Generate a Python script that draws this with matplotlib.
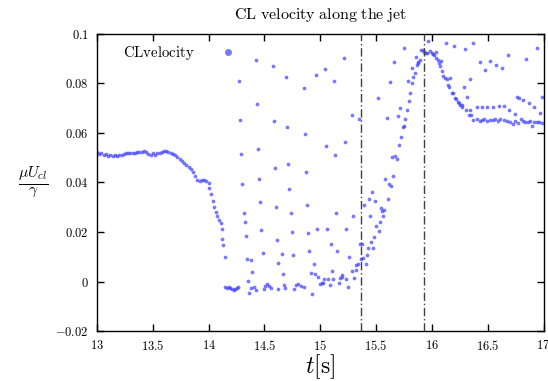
import matplotlib
matplotlib.use("Agg")
import matplotlib.pyplot as plt
from matplotlib.lines import Line2D

plt.rcParams['mathtext.fontset'] = 'cm'

# smooth part before the jet breaks up
t_early = [13.00, 13.02, 13.04, 13.06, 13.08, 13.10, 13.12, 13.14, 13.16, 13.18,
           13.20, 13.22, 13.24, 13.26, 13.28, 13.30, 13.32, 13.34, 13.36, 13.38,
           13.40, 13.42, 13.44, 13.46, 13.48, 13.50, 13.52, 13.54, 13.56, 13.58,
           13.60, 13.62, 13.64, 13.66, 13.68, 13.70, 13.72, 13.74, 13.76, 13.78,
           13.80, 13.82, 13.84, 13.86, 13.88, 13.90, 13.92, 13.94, 13.96, 13.98,
           14.00, 14.004, 14.019, 14.037, 14.049, 14.066, 14.078, 14.096, 14.108,
           14.117, 14.123, 14.132, 14.146,
           14.150, 14.165, 14.180, 14.195, 14.210, 14.225, 14.240, 14.255, 14.265]
v_early = [0.0522, 0.0515, 0.0518, 0.0510, 0.0514, 0.0508, 0.0512, 0.0505, 0.0510, 0.0508,
           0.0511, 0.0513, 0.0515, 0.0518, 0.0520, 0.0521, 0.0518, 0.0520, 0.0523, 0.0522,
           0.0525, 0.0527, 0.0522, 0.0514, 0.0510, 0.0519, 0.0512, 0.0518, 0.0520, 0.0524,
           0.0527, 0.0528, 0.0524, 0.0520, 0.0515, 0.0510, 0.0503, 0.0496, 0.0488, 0.0479,
           0.0470, 0.0462, 0.0453, 0.0444, 0.0428, 0.0412, 0.0408, 0.0410, 0.0411, 0.0406,
           0.0396, 0.0377, 0.0354, 0.0327, 0.0302, 0.0282, 0.0265, 0.0248, 0.0238,
           0.0212, 0.0170, 0.0146, 0.0101,
           -0.0022, -0.0025, -0.0022, -0.0024, -0.0030, -0.0034, -0.0030, -0.0024, -0.0022]

# scattered samples while the jet breaks up
t_mid = [14.275, 14.284, 14.293, 14.302, 14.315, 14.326, 14.335, 14.347, 14.356, 14.365,
         14.377, 14.383, 14.392, 14.407, 14.422, 14.427, 14.436, 14.445, 14.454, 14.463,
         14.472, 14.485, 14.499, 14.505, 14.521, 14.541, 14.559, 14.574, 14.586, 14.595,
         14.607, 14.616, 14.625, 14.625, 14.655, 14.667, 14.673, 14.687, 14.696, 14.705,
         14.714, 14.723, 14.736, 14.747, 14.756, 14.763, 14.781, 14.798, 14.828, 14.852,
         14.855, 14.866, 14.875, 14.884, 14.893, 14.902, 14.915, 14.924, 14.942, 14.953,
         14.965, 14.974, 14.983, 15.001, 15.013, 15.028, 15.037, 15.046, 15.055, 15.064,
         15.073, 15.085, 15.094, 15.106, 15.118, 15.126, 15.135, 15.144, 15.153, 15.166,
         15.177, 15.193, 15.198, 15.216, 15.225, 15.229, 15.234, 15.246, 15.258, 15.282,
         15.288, 15.297, 15.306, 15.318, 15.324, 15.336, 15.345, 15.357, 15.366, 15.377,
         15.384, 15.395, 15.405, 15.414, 15.426, 15.435, 15.446, 15.455, 15.467, 15.476,
         15.485, 15.494, 15.503, 15.515, 15.524, 15.536, 15.545, 15.556, 15.565, 15.574,
         15.583, 15.596, 15.608, 15.614, 15.628, 15.634, 15.646, 15.655, 15.664, 15.670,
         15.685, 15.697, 15.703, 15.718, 15.727, 15.742, 15.748, 15.754, 15.763, 15.775,
         15.784, 15.796, 15.807, 15.820, 15.825, 15.834, 15.847, 15.856, 15.867, 15.872,
         15.876, 15.897, 15.903, 15.921, 15.930, 15.945, 15.960, 15.966, 15.981, 15.996,
         16.011, 16.022, 16.038, 16.038, 16.056, 16.067, 16.076, 16.085, 16.094, 16.103,
         16.118, 16.125, 16.136, 16.145, 16.157, 16.166, 16.177, 16.184, 16.196, 16.204,
         16.217, 16.232, 16.244, 16.255, 16.268, 16.273, 16.286, 16.295, 16.309, 16.318,
         16.331, 16.340, 16.345, 16.351, 16.365, 16.399, 16.426, 16.445, 16.477, 16.497,
         16.524, 16.546, 16.578, 16.598, 16.626, 16.647, 16.677, 16.694, 16.747, 16.766,
         16.784, 16.817, 16.838, 16.865, 16.918, 16.945, 16.967, 16.987]
v_mid = [0.0810, 0.0652, 0.0515, 0.0392, 0.0276, 0.0242, 0.0182, 0.0093, 0.0002, -0.0048,
         -0.0027, 0.0089, 0.0039, -0.0020, -0.0034, 0.0895, 0.0717, 0.0537, 0.0415, 0.0322,
         0.0208, 0.0117, -0.0032, -0.0017, -0.0011, -0.0017, -0.0025, 0.0869, 0.0648, 0.0459,
         0.0301, 0.0166, 0.0074, -0.0029, 0.0112, 0.0030, -0.0015, -0.0025, 0.0824, 0.0624,
         0.0474, 0.0375, 0.0278, 0.0201, 0.0108, -0.0031, -0.0013, -0.0009, -0.0017, -0.0020,
         0.0780, 0.0596, 0.0442, 0.0309, 0.0198, 0.0125, 0.0034, -0.0050, 0.0069, 0.0030,
         0.0836, 0.0212, 0.0018, -0.0009, -0.0004, -0.0004, 0.0011, 0.0858, 0.0547, 0.0212,
         0.0012, -0.0015, 0.0151, 0.0044, 0.0010, 0.0810, 0.0513, 0.0276, 0.0125, -0.0006,
         0.0015, 0.0027, 0.0020, 0.0904, 0.0563, 0.0011, 0.0213, -0.0020, 0.0101, 0.0043,
         0.0672, 0.0264, 0.0014, 0.0047, 0.0066, 0.0069, 0.0656, 0.0151, 0.0091, 0.0151,
         0.0097, 0.0311, 0.0070, 0.0109, 0.0135, 0.0333, 0.0263, 0.0158, 0.0360, 0.0136,
         0.0179, 0.0325, 0.0224, 0.0743, 0.0204, 0.0240, 0.0297, 0.0284, 0.0263, 0.0288,
         0.0414, 0.0660, 0.0333, 0.0394, 0.0805, 0.0385, 0.0501, 0.0427, 0.0886, 0.0507,
         0.0496, 0.0668, 0.0552, 0.0699, 0.0582, 0.0625, 0.0628, 0.0943, 0.0655, 0.0693,
         0.0810, 0.0729, 0.0762, 0.0863, 0.0803, 0.0828, 0.0843, 0.0905, 0.0873, 0.0886,
         0.0884, 0.0895, 0.0935, 0.0937, 0.0927, 0.0921, 0.0923, 0.0970, 0.0933, 0.0921,
         0.0920, 0.0915, 0.0925, 0.0904, 0.0895, 0.0884, 0.0870, 0.0892, 0.0851, 0.0832,
         0.0820, 0.0964, 0.0816, 0.0792, 0.0784, 0.0822, 0.0760, 0.0760, 0.0952, 0.0741,
         0.0738, 0.0727, 0.0721, 0.0714, 0.0705, 0.0711, 0.0784, 0.0939, 0.0691, 0.0746,
         0.0674, 0.0816, 0.0693, 0.0672, 0.0963, 0.0703, 0.0886, 0.0704, 0.0854, 0.0703,
         0.0891, 0.0703, 0.0874, 0.0707, 0.0862, 0.0709, 0.0915, 0.0693, 0.0678, 0.0747,
         0.0742, 0.0735, 0.0899, 0.0722, 0.0705, 0.0942, 0.0679, 0.0745]

# settled part after the jet
t_late = [16.372, 16.402, 16.426, 16.450, 16.468, 16.492, 16.521, 16.546, 16.566, 16.587,
          16.611, 16.641, 16.671, 16.701, 16.728, 16.746, 16.775, 16.793, 16.815, 16.835,
          16.856, 16.880, 16.895, 16.916, 16.940, 16.963, 16.985]
v_late = [0.0652, 0.0656, 0.0649, 0.0652, 0.0656, 0.0649, 0.0652, 0.0652, 0.0657, 0.0649,
          0.0656, 0.0652, 0.0649, 0.0646, 0.0637, 0.0649, 0.0640, 0.0657, 0.0649, 0.0646,
          0.0646, 0.0649, 0.0629, 0.0644, 0.0644, 0.0644, 0.0641]

# dash-dot marker lines
t_marks = [15.362, 15.926]

xticks = [13, 13.5, 14, 14.5, 15, 15.5, 16, 16.5, 17]
yticks = [-0.02, 0, 0.02, 0.04, 0.06, 0.08, 0.1]

fig = plt.figure(figsize=(5.48, 3.81), dpi=100)
ax = fig.add_axes([0.177, 0.131, 0.815, 0.780])

pt_color = '#4040ff'
for t, v in [(t_early, v_early), (t_mid, v_mid), (t_late, v_late)]:
    ax.plot(t, v, 'o', ms=2.7, mec='none', mfc=pt_color, alpha=0.7)

for x in t_marks:
    ax.axvline(x, color='#404040', lw=1.0, ls=(0, (6, 2, 1, 2)))

ax.set_xlim(13, 17)
ax.set_ylim(-0.02, 0.1)
ax.set_xticks(xticks)
ax.set_xticklabels(['$%g$' % x for x in xticks], fontsize=9)
ax.set_yticks(yticks)
ax.set_yticklabels(['$%g$' % y for y in yticks], fontsize=9)
ax.tick_params(direction='in', length=5, width=1, top=True, right=True, pad=6)
for s in ax.spines.values():
    s.set_linewidth(1.0)

ax.set_title(r'$\mathrm{CL\ velocity\ along\ the\ jet}$', fontsize=11.5, pad=11)
ax.set_xlabel(r'$t[\mathrm{s}]$', fontsize=17, labelpad=-1)
ax.set_ylabel(r'$\frac{\mu U_{cl}}{\gamma}$', fontsize=16, rotation=0, labelpad=16, va='center')

handle = Line2D([], [], ls='none', marker='o', ms=5, mec='none', mfc=pt_color, alpha=0.7)
ax.legend([handle], [r'$\mathrm{CLvelocity}$'], loc='upper left', frameon=False,
          markerfirst=False, fontsize=10.7, handletextpad=1.2, borderaxespad=0.3,
          bbox_to_anchor=(0.035, 1.0))

fig.savefig('out.png', dpi=100)
